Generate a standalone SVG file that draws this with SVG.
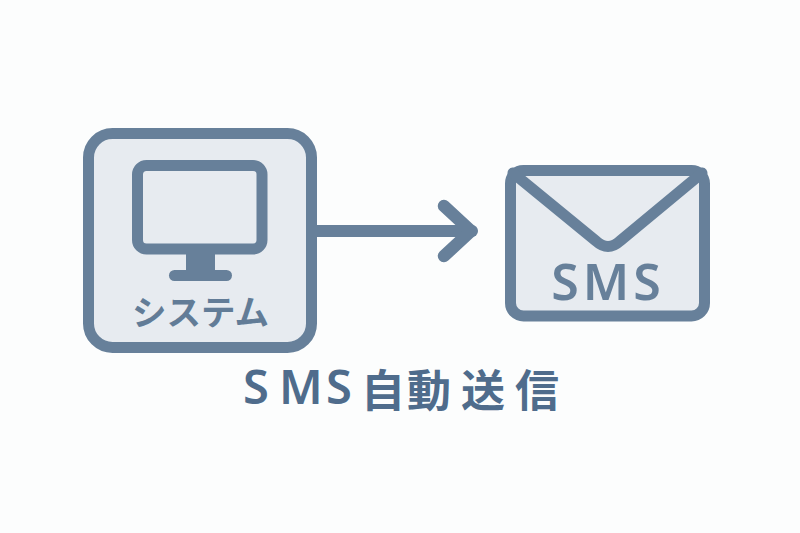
<svg xmlns="http://www.w3.org/2000/svg" width="800" height="533" viewBox="0 0 800 533">
<style>
.s{fill:#e7ebf0;stroke:#67809a;stroke-width:11;stroke-linejoin:round}
.l{fill:none;stroke:#67809a;stroke-linecap:round;stroke-linejoin:round}
.f{fill:#67809a}
text{font-family:"Noto Sans CJK JP","Noto Sans",sans-serif}
</style>
<rect width="800" height="533" fill="#fcfdfd"/>
<g id="connectors">
<path class="l" stroke-width="12" stroke-linecap="butt" d="M317 231H472"/>
<path class="l" stroke-width="12.500" d="M444 206L471 231L444 256"/>
</g>
<g id="system">
<rect class="s" x="88.500" y="133.500" width="223" height="214" rx="24"/>
<rect class="s" x="137.500" y="165.500" width="124.500" height="83.500" rx="9"/>
<rect class="f" x="186" y="254" width="29" height="18"/>
<rect class="f" x="169" y="270" width="63" height="11" rx="5.500"/>
<text x="200.500" y="325" font-size="34.500" font-weight="700" text-anchor="middle" fill="#627c97">システム</text>
</g>
<g id="sms">
<rect class="s" x="510.500" y="170.500" width="194" height="145.500" rx="13"/>
<path class="l" stroke-width="11" stroke-linecap="butt" d="M513 173L596 241Q608 252 620 241L702 173"/>
<text x="608" y="300" font-size="50" font-weight="600" letter-spacing="4" text-anchor="middle" fill="#67809a" style="font-family:'Noto Sans',sans-serif">SMS</text>
</g>
<g id="title" fill="#4f6c8c">
<text y="407" font-size="44" font-weight="600" x="361 407 461 515">自動送信</text>
<text y="404" font-size="47" font-weight="600" x="243 279 326" style="font-family:'Noto Sans',sans-serif">SMS</text>
</g>
</svg>
